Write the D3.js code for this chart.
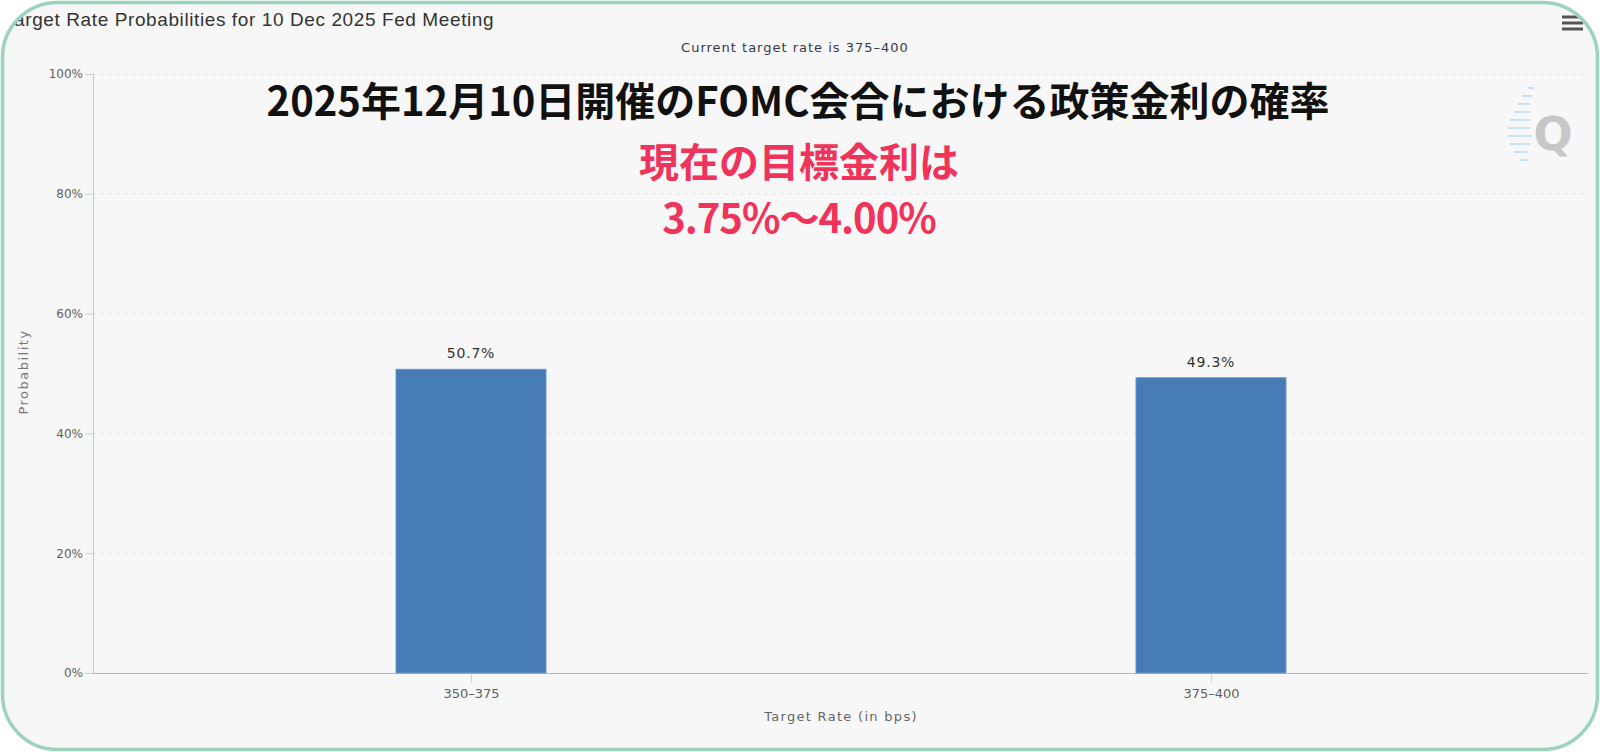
<!DOCTYPE html>
<html lang="ja">
<head>
  <meta charset="UTF-8">
  <title>Target Rate Probabilities</title>
  <style>
    body { margin: 0; overflow: hidden; background: #fff; }
    svg { display: block; }
    .tick-label { font-family: "DejaVu Sans", sans-serif; fill: #606060; }
    .grid line { stroke: #d8d8d8; stroke-dasharray: 2,6; }
  </style>
</head>
<body>
  <script src="https://d3js.org/d3.v7.min.js"></script>
  <script>
    const categories = ["350–375", "375–400"];
    const probabilities = [50.7, 49.3];
    const yTicks = [0, 20, 40, 60, 80, 100];

    const chartTitle = "Target Rate Probabilities for 10 Dec 2025 Fed Meeting";
    const subTitle = "Current target rate is 375–400";
    const jpTitle = "2025年12月10日開催のFOMC会合における政策金利の確率";
    const jpNote = ["現在の目標金利は", "3.75%〜4.00%"];

    const width = 1600, height = 752;
    const plot = {left: 93, right: 1588, top: 74, bottom: 673};

    const svg = d3.select("body").append("svg").attr("width", width).attr("height", height);

    // frame background
    svg.append("rect").attr("x", 2).attr("y", 2).attr("width", width - 4).attr("height", height - 4)
      .attr("rx", 55).attr("fill", "#f7f7f7");

    const y = d3.scaleLinear().domain([0, 100]).range([plot.bottom, plot.top]);
    const x = d3.scalePoint().domain(categories).range([plot.left + 8, plot.right - 7]).padding(0.5);
    const barWidth = 150;

    // grid
    svg.append("g").attr("class", "grid")
      .selectAll("line").data(yTicks.filter(d => d > 0)).enter().append("line")
      .attr("x1", plot.left).attr("x2", plot.right)
      .attr("y1", d => y(d)).attr("y2", d => y(d));

    // y axis
    const yAxis = svg.append("g").attr("transform", `translate(${plot.left},0)`)
      .call(d3.axisLeft(y).tickValues(yTicks).tickFormat(d => d + "%").tickSize(8).tickPadding(2));
    yAxis.select(".domain").attr("stroke", "#c8c8c8");
    yAxis.selectAll(".tick line").attr("stroke", "#d0d0d0");
    yAxis.selectAll(".tick text").attr("class", "tick-label").attr("font-size", 12).attr("fill", "#606060");

    // x axis
    const xAxis = svg.append("g").attr("transform", `translate(0,${plot.bottom})`)
      .call(d3.axisBottom(x).tickSize(10).tickPadding(6));
    xAxis.select(".domain").attr("d", `M${plot.left},0.5H${plot.right}`).attr("stroke", "#b8b8b8");
    xAxis.selectAll(".tick line").attr("stroke", "#d0d0d0");
    xAxis.selectAll(".tick text").attr("class", "tick-label").attr("font-size", 13).attr("fill", "#555");

    // bars
    svg.append("g").selectAll("rect").data(probabilities).enter().append("rect")
      .attr("x", (d, i) => x(categories[i]) - barWidth / 2)
      .attr("y", d => y(d))
      .attr("width", barWidth)
      .attr("height", d => plot.bottom - y(d))
      .attr("fill", "#467bb5")
      .attr("stroke", "#6a9ad0").attr("stroke-width", 1);

    svg.append("g").selectAll("text").data(probabilities).enter().append("text")
      .attr("x", (d, i) => x(categories[i]))
      .attr("y", d => y(d) - 11)
      .attr("text-anchor", "middle")
      .attr("font-family", "DejaVu Sans, sans-serif").attr("font-size", 14)
      .attr("letter-spacing", 0.8).attr("fill", "#333")
      .text(d => d.toFixed(1) + "%");

    // axis titles
    svg.append("text").attr("transform", "translate(28,372) rotate(-90)")
      .attr("text-anchor", "middle").attr("font-family", "DejaVu Sans, sans-serif")
      .attr("font-size", 13).attr("letter-spacing", 1.5).attr("fill", "#777").text("Probability");
    svg.append("text").attr("x", 841).attr("y", 721).attr("text-anchor", "middle")
      .attr("font-family", "DejaVu Sans, sans-serif").attr("font-size", 13)
      .attr("letter-spacing", 1.3).attr("fill", "#666")
      .text("Target Rate (in bps)");

    // titles
    svg.append("text").attr("x", 4).attr("y", 26)
      .attr("font-family", "Liberation Sans, Arial, sans-serif").attr("font-size", 19)
      .attr("letter-spacing", 0.6).attr("fill", "#333")
      .text(chartTitle);
    svg.append("text").attr("x", 795).attr("y", 52).attr("text-anchor", "middle")
      .attr("font-family", "DejaVu Sans, sans-serif").attr("font-size", 13)
      .attr("letter-spacing", 1).attr("fill", "#333a4a")
      .text(subTitle);

    svg.append("text").attr("x", 798).attr("y", 116).attr("text-anchor", "middle")
      .attr("font-family", "Noto Sans CJK JP, sans-serif").attr("font-weight", 700)
      .attr("font-size", 40).attr("fill", "#111").text(jpTitle);
    svg.append("g").selectAll("text").data(jpNote).enter().append("text")
      .attr("x", 799).attr("y", (d, i) => 177 + i * 56).attr("text-anchor", "middle")
      .attr("font-family", "Noto Sans CJK JP, sans-serif").attr("font-weight", 700)
      .attr("font-size", 40).attr("letter-spacing", (d, i) => i === 1 ? -1 : 0)
      .attr("fill", "#f0335b").text(d => d);

    // watermark logo
    const logo = svg.append("g").attr("opacity", 0.75);
    [[1528, 88, 6], [1522, 96, 10], [1518, 104, 12], [1514, 112, 16], [1510, 120, 20],
     [1508, 128, 22], [1508, 136, 24], [1510, 144, 20], [1514, 152, 14], [1520, 160, 8]]
      .forEach(([lx, ly, lw]) => {
        logo.append("line").attr("x1", lx).attr("x2", lx + lw).attr("y1", ly).attr("y2", ly)
          .attr("stroke", "#b5dcf2").attr("stroke-width", 2);
      });
    logo.append("text").attr("x", 1553).attr("y", 150).attr("text-anchor", "middle")
      .attr("font-family", "DejaVu Sans, sans-serif").attr("font-weight", 700)
      .attr("font-size", 46).attr("fill", "#b8b8b8").text("Q");

    // menu icon
    svg.append("g").selectAll("line").data([17, 23, 29]).enter().append("line")
      .attr("x1", 1562).attr("x2", 1583).attr("y1", d => d).attr("y2", d => d)
      .attr("stroke", "#555").attr("stroke-width", 3);

    // white outside the rounded frame, then border
    svg.append("path")
      .attr("d", `M0,0H${width}V${height}H0Z ` +
        `M57,2H${width - 57}A55,55 0 0 1 ${width - 2},57V${height - 57}A55,55 0 0 1 ${width - 57},${height - 2}` +
        `H57A55,55 0 0 1 2,${height - 57}V57A55,55 0 0 1 57,2Z`)
      .attr("fill", "#fff").attr("fill-rule", "evenodd");
    svg.append("rect").attr("x", 2.5).attr("y", 2.5).attr("width", width - 5).attr("height", height - 5)
      .attr("rx", 55).attr("fill", "none").attr("stroke", "#9dd3bd").attr("stroke-width", 3.5);
  </script>
</body>
</html>
